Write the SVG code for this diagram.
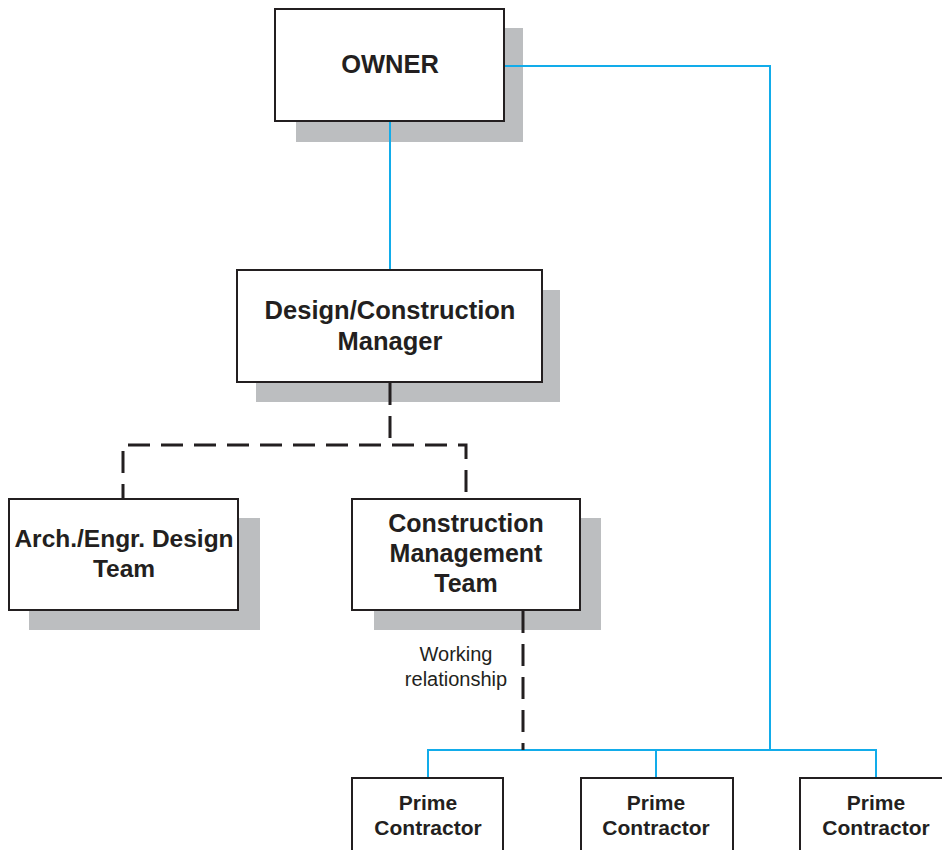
<svg xmlns="http://www.w3.org/2000/svg" width="942" height="850" viewBox="0 0 942 850">
  <style>
    .box { fill: #ffffff; stroke: #231f20; stroke-width: 2; }
    .shadow { fill: #bcbec0; }
    .blue { fill: none; stroke: #12acea; stroke-width: 2; }
    .dash { fill: none; stroke: #231f20; stroke-width: 3; stroke-dasharray: 22 11; }
    .t { font-family: "Liberation Sans", Arial, sans-serif; font-weight: bold; fill: #231f20; text-anchor: middle; }
    .lbl { font-family: "Liberation Sans", Arial, sans-serif; fill: #231f20; text-anchor: middle; font-size: 20px; }
  </style>
  <rect width="942" height="850" fill="#ffffff"/>

  <g id="owner">
    <rect class="shadow" x="296" y="28" width="227" height="114"/>
    <rect class="box" x="275" y="9" width="229" height="112"/>
    <text class="t" x="390" y="73" font-size="25.5">OWNER</text>
  </g>

  <g id="design-construction-manager">
    <rect class="shadow" x="256" y="290" width="304" height="112"/>
    <rect class="box" x="237" y="270" width="305" height="112"/>
    <text class="t" x="390" y="319" font-size="25.5">Design/Construction</text>
    <text class="t" x="390" y="350" font-size="25.5">Manager</text>
  </g>

  <g id="design-team">
    <rect class="shadow" x="29" y="518" width="231" height="112"/>
    <rect class="box" x="9" y="499" width="229" height="111"/>
    <text class="t" x="124" y="547" font-size="24.5">Arch./Engr. Design</text>
    <text class="t" x="124" y="577" font-size="24.5">Team</text>
  </g>

  <g id="cm-team">
    <rect class="shadow" x="374" y="518" width="227" height="112"/>
    <rect class="box" x="352" y="499" width="228" height="111"/>
    <text class="t" x="466" y="532" font-size="25">Construction</text>
    <text class="t" x="466" y="562" font-size="25">Management</text>
    <text class="t" x="466" y="592" font-size="25">Team</text>
  </g>

  <g id="working-label">
    <text class="lbl" x="456" y="661">Working</text>
    <text class="lbl" x="456" y="686">relationship</text>
  </g>

  <g id="prime-1">
    <rect class="box" x="352" y="778" width="151" height="90"/>
    <text class="t" x="428" y="810" font-size="21">Prime</text>
    <text class="t" x="428" y="835" font-size="21">Contractor</text>
  </g>

  <g id="prime-2">
    <rect class="box" x="581" y="778" width="152" height="90"/>
    <text class="t" x="656" y="810" font-size="21">Prime</text>
    <text class="t" x="656" y="835" font-size="21">Contractor</text>
  </g>

  <g id="prime-3">
    <rect class="box" x="800" y="778" width="160" height="90"/>
    <text class="t" x="876" y="810" font-size="21">Prime</text>
    <text class="t" x="876" y="835" font-size="21">Contractor</text>
  </g>

  <!-- connectors drawn last so they cross the drop shadows -->
  <g id="connectors">
    <line class="blue" x1="390" y1="122" x2="390" y2="269"/>
    <polyline class="blue" points="505,66 770,66 770,750"/>
    <polyline class="blue" points="428,777 428,750 876,750 876,777"/>
    <line class="blue" x1="656" y1="750" x2="656" y2="777"/>
    <line class="dash" x1="390" y1="383" x2="390" y2="445"/>
    <polyline class="dash" points="123,498 123,445 466,445 466,498" style="stroke-dashoffset:8"/>
    <line class="dash" x1="523" y1="611" x2="523" y2="750"/>
  </g>
</svg>
